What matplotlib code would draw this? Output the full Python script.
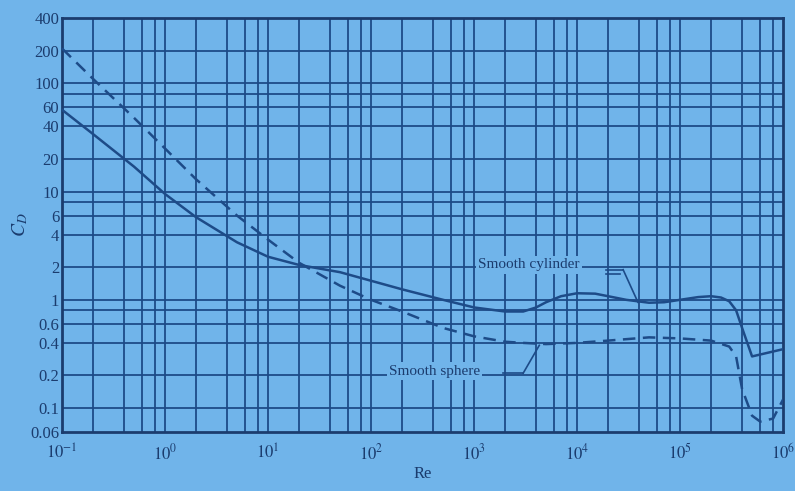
import matplotlib
matplotlib.use("Agg")
import matplotlib.pyplot as plt
from matplotlib.ticker import FixedLocator, NullFormatter, NullLocator

plt.rcParams['font.family'] = ['Liberation Serif', 'DejaVu Serif']
plt.rcParams['mathtext.fontset'] = 'stix'

bg = '#70b4ea'
ink = '#1d4b88'
txt = '#1b3c6e'

# smooth cylinder (solid)
re_cyl = [0.1, 0.2, 0.5, 1, 2, 5, 10, 20, 50, 100, 200, 500, 1000, 2000, 3000,
          4000, 5000, 7000, 1e4, 1.5e4, 2e4, 3e4, 5e4, 7e4, 1e5, 1.5e5, 2e5,
          2.5e5, 3e5, 3.5e5, 4e5, 5e5, 1e6]
cd_cyl = [57, 34, 17, 9.5, 5.8, 3.4, 2.5, 2.1, 1.8, 1.5, 1.25, 1.0, 0.85, 0.78, 0.78,
          0.85, 0.95, 1.08, 1.15, 1.14, 1.08, 1.0, 0.94, 0.95, 1.0, 1.06, 1.08,
          1.05, 0.97, 0.8, 0.55, 0.3, 0.35]

# smooth sphere (dashed)
re_sph = [0.1, 0.2, 0.5, 1, 2, 5, 10, 20, 50, 100, 200, 500, 1000, 2000, 3000,
          5000, 1e4, 2e4, 5e4, 1e5, 2e5, 3e5, 3.5e5, 4e5, 5e5, 6e5, 8e5, 1e6]
cd_sph = [210, 110, 48, 25, 13, 6.0, 3.6, 2.2, 1.35, 1.0, 0.78, 0.55, 0.46, 0.41, 0.4,
          0.39, 0.4, 0.42, 0.45, 0.44, 0.42, 0.37, 0.3, 0.15, 0.085, 0.075, 0.08, 0.12]

y_ticks = [400, 200, 100, 60, 40, 20, 10, 6, 4, 2, 1, 0.6, 0.4, 0.2, 0.1, 0.06]
y_labels = ['400', '200', '100', '60', '40', '20', '10', '6', '4', '2', '1',
            '0.6', '0.4', '0.2', '0.1', '0.06']
y_grid = [200, 100, 80, 60, 40, 20, 10, 8, 6, 4, 2, 1, 0.8, 0.6, 0.4, 0.2, 0.1]
x_ticks = [1e-1, 1e0, 1e1, 1e2, 1e3, 1e4, 1e5, 1e6]
x_labels = [r'$10^{-1}$', r'$10^{0}$', r'$10^{1}$', r'$10^{2}$',
            r'$10^{3}$', r'$10^{4}$', r'$10^{5}$', r'$10^{6}$']
x_grid = [m * 10.0 ** e for e in range(-1, 6) for m in (1, 2, 4, 6, 8)]

fig = plt.figure(figsize=(7.95, 4.91), dpi=100, facecolor=bg)
ax = fig.add_axes([0.078, 0.12, 0.907, 0.843], facecolor=bg)
ax.set_xscale('log')
ax.set_yscale('log')
ax.set_xlim(0.1, 1e6)
ax.set_ylim(0.06, 400)

for gx in x_grid:
    ax.axvline(gx, color=ink, lw=1.3, zorder=1)
for gy in y_grid:
    ax.axhline(gy, color=ink, lw=1.3, zorder=1)

ax.plot(re_cyl, cd_cyl, color=ink, lw=1.8, zorder=3)
ax.plot(re_sph, cd_sph, color=ink, lw=1.8, ls=(0, (5, 3)), zorder=3)

# labels with leader lines
box = dict(facecolor=bg, edgecolor='none', pad=1.5)
ax.text(1.1e3, 2.1, 'Smooth cylinder', color=txt, fontsize=11, va='center',
        ha='left', bbox=box, zorder=4)
ax.plot([1.9e4, 2.8e4], [1.9, 1.9], color=ink, lw=1.2, zorder=4)
ax.plot([1.9e4, 2.6e4], [1.75, 1.75], color=ink, lw=1.2, zorder=4)
ax.plot([2.8e4, 3.9e4], [1.9, 0.95], color=ink, lw=1.2, zorder=4)

ax.text(150, 0.22, 'Smooth sphere', color=txt, fontsize=11, va='center',
        ha='left', bbox=box, zorder=4)
ax.plot([1.9e3, 3.0e3], [0.21, 0.21], color=ink, lw=1.2, zorder=4)
ax.plot([3.0e3, 4.3e3], [0.21, 0.38], color=ink, lw=1.2, zorder=4)

ax.xaxis.set_major_locator(FixedLocator(x_ticks))
ax.xaxis.set_minor_locator(NullLocator())
ax.set_xticklabels(x_labels)
ax.yaxis.set_major_locator(FixedLocator(y_ticks))
ax.yaxis.set_minor_locator(NullLocator())
ax.yaxis.set_minor_formatter(NullFormatter())
ax.set_yticklabels(y_labels)
ax.tick_params(axis='both', length=0, colors=txt, labelsize=12)
ax.tick_params(axis='x', pad=8)
ax.tick_params(axis='y', pad=2)

for s in ax.spines.values():
    s.set_color(txt)
    s.set_linewidth(2)

ax.set_xlabel('Re', color=txt, fontsize=12, labelpad=2)
ax.set_ylabel(r'$C_D$', color=txt, fontsize=14, labelpad=0)

fig.savefig('out.png', dpi=100, facecolor=bg)
